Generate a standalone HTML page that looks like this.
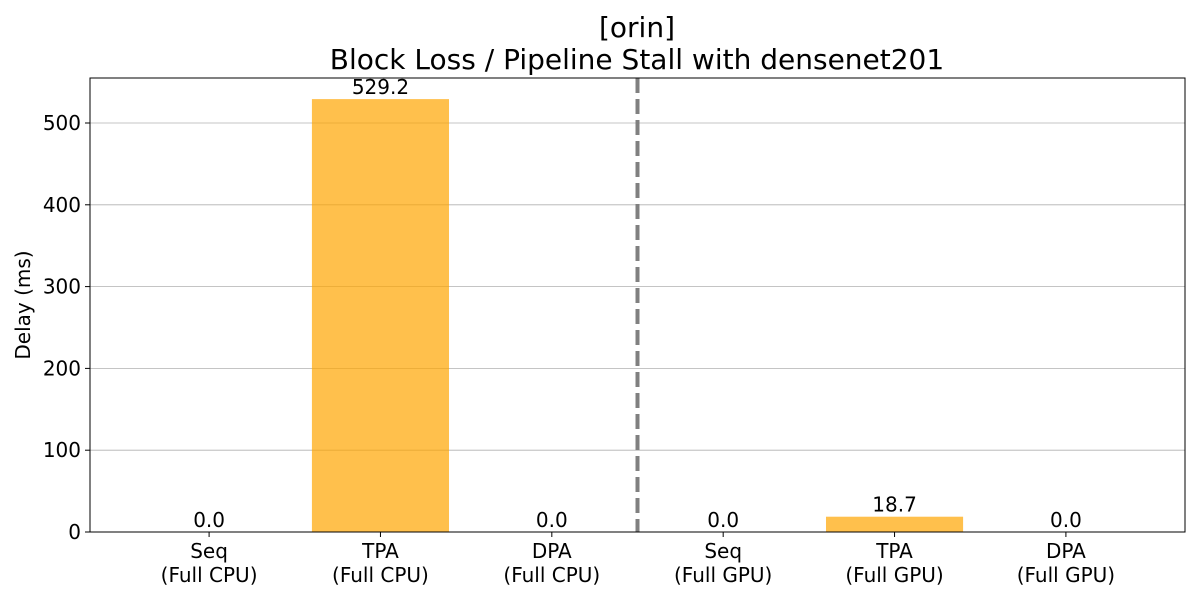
<!DOCTYPE html>
<html><head><meta charset="utf-8"><style>
body{margin:0;background:#fff;font-family:"Liberation Sans","DejaVu Sans",sans-serif;}
</style></head><body>
<svg id="chart" width="1200" height="600" xmlns="http://www.w3.org/2000/svg" font-family="DejaVu Sans, Liberation Sans, sans-serif">
<text x="637" y="37" font-size="28" text-anchor="middle">[orin]</text>
<text x="637" y="69" font-size="28" text-anchor="middle">Block Loss / Pipeline Stall with densenet201</text>
<g id="grid"></g>
<g id="bars"></g>
<g id="xticks"></g>
<g id="yticks"></g>
<text transform="translate(30,305) rotate(-90)" font-size="20" text-anchor="middle">Delay (ms)</text>
<rect x="90" y="78" width="1095" height="454" fill="none" stroke="#000" stroke-width="1"/>
</svg>
<script>
const categories=["Seq\n(Full CPU)","TPA\n(Full CPU)","DPA\n(Full CPU)","Seq\n(Full GPU)","TPA\n(Full GPU)","DPA\n(Full GPU)"];
const values=[0.0,529.2,0.0,0.0,18.7,0.0];
const yTicks=[0,100,200,300,400,500];
const NS="http://www.w3.org/2000/svg";
const L=90,R=1185,T=78,B=532,xmin=-0.695,xmax=5.695,ymax=555;
const X=v=>L+(v-xmin)/(xmax-xmin)*(R-L);
const Y=v=>B-v/ymax*(B-T);
function mk(tag,attrs,parent){const e=document.createElementNS(NS,tag);for(const k in attrs)e.setAttribute(k,attrs[k]);parent.appendChild(e);return e;}
const grid=document.getElementById('grid'),bars=document.getElementById('bars'),xt=document.getElementById('xticks'),yt=document.getElementById('yticks');
yTicks.forEach(t=>{
 const y=Y(t);
 if(t>0){const g=mk('line',{x1:L,x2:R,y1:y,y2:y,stroke:'#b0b0b0','stroke-width':0.8},grid);
 
 }
 mk('line',{x1:L-5,x2:L,y1:y,y2:y,stroke:'#000'},yt);
 const tx=mk('text',{x:L-9,y:y+7,'font-size':20,'text-anchor':'end'},yt);
 
 
 tx.textContent=t;
});
values.forEach((v,i)=>{
 const x0=X(i-0.4),x1=X(i+0.4);
 const r=mk('rect',{x:x0,y:Y(v),width:x1-x0,height:B-Y(v),fill:'#ffa500','fill-opacity':0.7},bars);
 
 
 const lb=mk('text',{x:X(i),y:Y(v)-5,'font-size':20,'text-anchor':'middle'},bars);
 
 
 lb.textContent=v.toFixed(1);
 mk('line',{x1:X(i),x2:X(i),y1:B,y2:B+5,stroke:'#000'},xt);
 categories[i].split('\n').forEach((s,j)=>{
  const t=mk('text',{x:X(i),y:B+26+j*24,'font-size':20,'text-anchor':'middle'},xt);
  
  
  t.textContent=s;
 });
});
const d=mk('line',{x1:X(2.5),x2:X(2.5),y1:T,y2:B,stroke:'#808080','stroke-width':4,'stroke-dasharray':'15,6'},bars);


</script>
</body></html>
